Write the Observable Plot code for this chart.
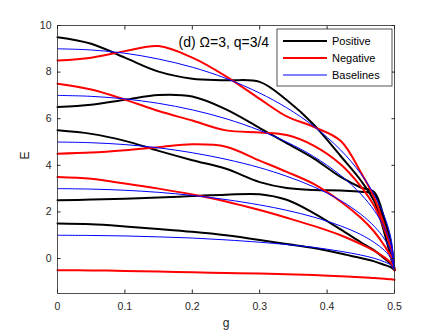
<!DOCTYPE html>
<html><head><meta charset="utf-8">
<script src="https://cdn.jsdelivr.net/npm/d3@7"></script>
<script src="https://cdn.jsdelivr.net/npm/@observablehq/plot@0.6"></script>
<style>
body{margin:0;background:#fff;}
svg{font-family:"Liberation Sans",Arial,sans-serif;}
</style>
</head><body><div id="chart"></div>
<script>
// coupling strength g (shared abscissa for every curve)
const g = [0, 0.05, 0.1, 0.15, 0.2, 0.25, 0.3, 0.34, 0.38, 0.42, 0.45, 0.47, 0.485, 0.495, 0.5];

// Positive-parity levels (black)
const pos95 = [9.5, 9.22, 8.62, 8.02, 7.72, 7.65, 7.58, 6.8, 5.75, 4.4, 3.35, 2.45, 1.1, 0.0, -0.5];
const pos65 = [6.5, 6.6, 6.81, 7.02, 6.95, 6.4, 5.6, 4.95, 4.3, 3.5, 3.05, 2.85, 1.7, 0.6, -0.5];
const pos55 = [5.5, 5.35, 5.05, 4.62, 4.22, 3.85, 3.28, 3.03, 2.94, 2.92, 2.87, 2.75, 1.45, 0.3, -0.5];
const pos25 = [2.5, 2.53, 2.57, 2.62, 2.68, 2.74, 2.76, 2.52, 1.95, 1.25, 0.7, 0.35, 0.0, -0.25, -0.5];
const pos15 = [1.5, 1.47, 1.38, 1.27, 1.15, 1.0, 0.8, 0.62, 0.45, 0.22, 0.02, -0.12, -0.27, -0.38, -0.5];

// Negative-parity levels (red)
const neg85 = [8.5, 8.62, 8.9, 9.12, 8.62, 7.82, 6.85, 6.1, 5.65, 5.05, 3.7, 2.6, 1.4, 0.4, -0.5];
const neg75 = [7.5, 7.25, 6.82, 6.33, 5.92, 5.5, 5.41, 5.3, 4.85, 4.05, 3.1, 2.25, 1.25, 0.4, -0.5];
const neg45 = [4.5, 4.55, 4.65, 4.78, 4.9, 4.8, 4.2, 3.72, 3.2, 2.45, 1.75, 1.15, 0.55, 0.05, -0.5];
const neg35 = [3.5, 3.42, 3.22, 3.0, 2.75, 2.45, 2.08, 1.75, 1.4, 1.0, 0.62, 0.33, 0.05, -0.2, -0.5];
const negm05 = [-0.5, -0.51, -0.53, -0.56, -0.59, -0.62, -0.64, -0.67, -0.71, -0.76, -0.8, -0.84, -0.87, -0.89, -0.91];

// Baselines (blue)
const base9 = [9.0, 8.95, 8.81, 8.56, 8.21, 7.73, 7.10, 6.47, 5.68, 4.66, 3.64, 2.74, 1.81, 0.84, -0.5];
const base7 = [7.0, 6.96, 6.85, 6.66, 6.38, 6.00, 5.50, 5.00, 4.38, 3.57, 2.77, 2.06, 1.32, 0.56, -0.5];
const base5 = [5.0, 4.97, 4.89, 4.75, 4.54, 4.26, 3.90, 3.53, 3.08, 2.49, 1.90, 1.38, 0.84, 0.28, -0.5];
const base3 = [3.0, 2.98, 2.93, 2.84, 2.71, 2.53, 2.30, 2.07, 1.78, 1.40, 1.03, 0.69, 0.35, -0.01, -0.5];
const base1 = [1.0, 0.99, 0.97, 0.93, 0.88, 0.80, 0.70, 0.60, 0.48, 0.31, 0.15, 0.01, -0.14, -0.29, -0.5];

const seriesNames = ["Positive", "Negative", "Baselines"];
const seriesColors = ["#000000", "#ff0000", "#0000ff"];
const seriesWidths = [2, 2, 1];
const seriesCurves = [
  [pos95, pos65, pos55, pos25, pos15],
  [neg85, neg75, neg45, neg35, negm05],
  [base9, base7, base5, base3, base1]
];

const xTicks = [0, 0.1, 0.2, 0.3, 0.4, 0.5];
const xTickLabels = ["0", "0.1", "0.2", "0.3", "0.4", "0.5"];
const yTicks = [0, 2, 4, 6, 8, 10];
const yTickLabels = ["0", "2", "4", "6", "8", "10"];
const titleText = "(d) \u03A9=3, q=3/4";

const rows = [];
seriesCurves.forEach((curves, s) => {
  curves.forEach((vals, c) => {
    vals.forEach((E, j) => rows.push({g: g[j], E, series: seriesNames[s], id: s + "-" + c}));
  });
});

const axisColor = "#262626";
const tick = 3.5;

const lineMarks = seriesNames.map((name, s) =>
  Plot.line(rows.filter(d => d.series === name), {
    x: "g", y: "E", z: "id", stroke: seriesColors[s], strokeWidth: seriesWidths[s], curve: "catmull-rom"
  })
);

const chart = Plot.plot({
  width: 436, height: 334,
  marginLeft: 57, marginRight: 42, marginTop: 25, marginBottom: 41,
  style: {background: "#fff", fontFamily: "Liberation Sans, Arial, sans-serif", fontSize: "10.5px", color: axisColor},
  x: {domain: [0, 0.5]},
  y: {domain: [-1.5, 10]},
  marks: [
    ...lineMarks,
    Plot.frame({stroke: axisColor, strokeWidth: 0.8}),
    Plot.axisX({anchor: "bottom", ticks: xTicks, tickSize: 0, tickPadding: 9, tickFormat: d => xTickLabels[xTicks.indexOf(d)], label: null, fill: axisColor, fontSize: 10.5}),
    Plot.axisX({anchor: "bottom", ticks: xTicks, tickSize: -tick, fill: "none", stroke: axisColor, label: null}),
    Plot.axisX({anchor: "top", ticks: xTicks, tickSize: -tick, fill: "none", stroke: axisColor, label: null}),
    Plot.axisY({anchor: "left", ticks: yTicks, tickSize: 0, tickPadding: 6, tickFormat: d => yTickLabels[yTicks.indexOf(d)], label: null, fill: axisColor, fontSize: 10.5}),
    Plot.axisY({anchor: "left", ticks: yTicks, tickSize: -tick, fill: "none", stroke: axisColor, label: null}),
    Plot.axisY({anchor: "right", ticks: yTicks, tickSize: -tick, fill: "none", stroke: axisColor, label: null}),
    Plot.text(["g"], {text: d => d, frameAnchor: "bottom", dy: 33, fontSize: 12, fill: axisColor}),
    Plot.text(["E"], {text: d => d, frameAnchor: "left", dx: -32, rotate: -90, fontSize: 12, fill: axisColor}),
    Plot.text([titleText], {text: d => d, frameAnchor: "top-left", textAnchor: "start", lineAnchor: "top", dx: 121, dy: 12, fontSize: 14, fill: "#000"})
  ]
});

document.getElementById("chart").appendChild(chart);

// Legend box (inside the axes, top right)
const svg = d3.select(chart);
const lg = svg.append("g").attr("transform", "translate(277,29)");
lg.append("rect").attr("width", 115).attr("height", 57).attr("fill", "#fff").attr("stroke", axisColor).attr("stroke-width", 0.8);
seriesNames.forEach((name, s) => {
  const yy = 12 + s * 17;
  lg.append("line").attr("x1", 6).attr("x2", 50).attr("y1", yy).attr("y2", yy)
    .attr("stroke", seriesColors[s]).attr("stroke-width", seriesWidths[s]);
  lg.append("text").attr("x", 55).attr("y", yy).attr("dy", "0.35em")
    .attr("text-anchor", "start").attr("font-size", 11).attr("fill", "#000").text(name);
});
</script>
</body></html>
